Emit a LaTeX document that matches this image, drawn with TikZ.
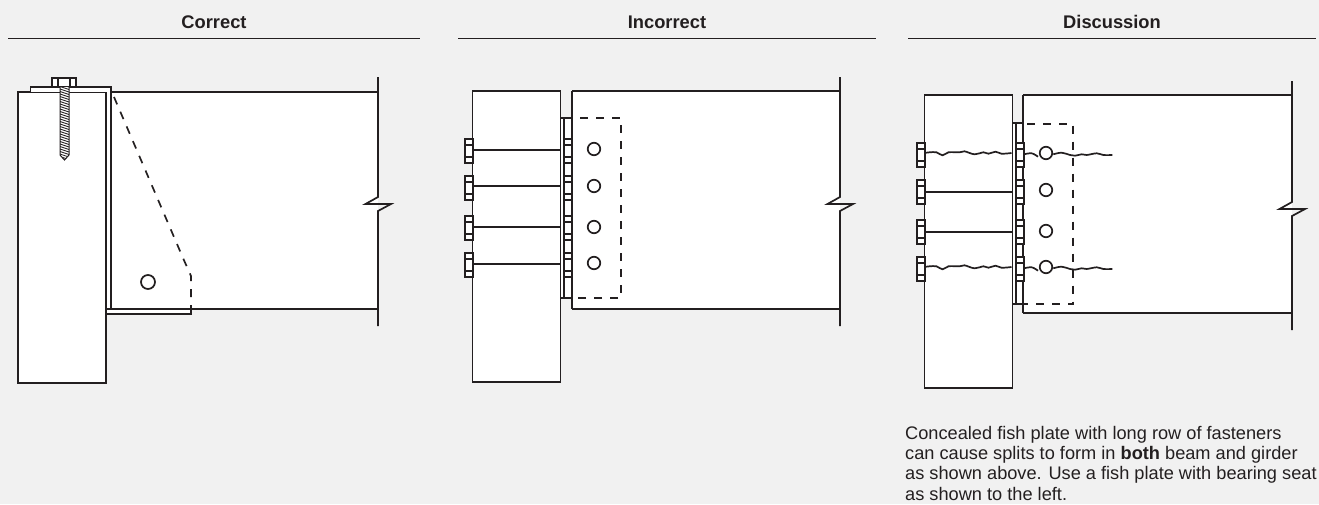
\documentclass[tikz,border=0pt]{standalone}
\usepackage{fontspec}
\setmainfont{Liberation Sans}
\definecolor{ink}{HTML}{231F20}
\definecolor{bg}{HTML}{F1F1F1}
\tikzset{
  part/.style={draw=ink,line width=1.7pt,fill=white},
  ln/.style={draw=ink,line width=1.7pt},
  rule/.style={draw=ink,line width=1.1pt},
  dashline/.style={draw=ink,line width=1.7pt,dash pattern=on 8pt off 8pt},
  hole/.style={draw=ink,line width=1.7pt,fill=white},
  head/.style={font=\bfseries\fontsize{18.3}{22}\selectfont,text=ink,inner sep=0pt,anchor=base},
  body/.style={font=\fontsize{18.2}{20.3}\selectfont,text=ink,inner sep=0pt,anchor=north west,align=left}
}
% break line: x, top, zig y
\newcommand{\breakline}[3]{%
  \draw[ln,line join=miter] (#1,#2) -- (#1,#3-7) -- (#1-12.5,#3) -- (#1+13,#3) -- (#1,#3+7) -- (#1,#2+249);}
% bolt pair at row top y; #1 = left head x, #2 = right head x, #3 = y
\newcommand{\boltpair}[3]{%
  \draw[part,line width=1.5pt] (#1,#3) rectangle (#1+8,#3+24);
  \draw[ln,line width=1.5pt] (#1,#3+6) -- (#1+8,#3+6) (#1,#3+18) -- (#1+8,#3+18);
  \draw[part,line width=1.5pt] (#2,#3) rectangle (#2+8,#3+24);
  \draw[ln,line width=1.5pt] (#2,#3+6) -- (#2+8,#3+6) (#2,#3+18) -- (#2+8,#3+18);}
% wavy crack
\newcommand{\waveA}[2]{%
  \draw[ln] plot[smooth,tension=0.6] coordinates {(#1,#2) (#1+5,#2-.7) (#1+12,#2-.7) (#1+18,#2+2.3) (#1+24,#2-.7) (#1+35,#2-.7) (#1+40,#2-1.7) (#1+50,#2+1.3) (#1+59,#2-.7) (#1+64,#2+.7) (#1+71,#2-1.3) (#1+77,#2+.7) (#1+87,#2)};}
\newcommand{\waveB}[2]{%
  \draw[ln] plot[smooth,tension=0.6] coordinates {(#1+1,#2+.3) (#1+8.7,#2-.7) (#1+15,#2+2.7)};
  \draw[ln] plot[smooth,tension=0.6] coordinates {(#1+30.3,#2+.3) (#1+38.7,#2-1.3) (#1+47,#2+1) (#1+52,#2+1.7) (#1+58.7,#2+.3) (#1+63.7,#2+1) (#1+73.7,#2-.7) (#1+80.3,#2+1) (#1+89.3,#2+1)};}
\begin{document}
\begin{tikzpicture}[x=1pt,y=-1pt]
\useasboundingbox[fill=bg] (0,0) rectangle (1319,504);
% headers
\node[head] (h1) at (214,28) {Correct};
\node[head] (h2) at (667,28) {Incorrect};
\node[head] (h3) at (1112,28) {Discussion};
\draw[rule] (8,38.7) -- (420,38.7);
\draw[rule] (458,38.7) -- (876,38.7);
\draw[rule] (908,38.7) -- (1316,38.7);

% ---------- Panel 1
\fill[white] (111,92) rectangle (378,309);
\draw[ln] (111,92) -- (378,92);
\draw[ln] (111,309) -- (378,309);
\breakline{378}{77}{204}
\draw[part] (18,92) rectangle (106,383);
\fill[white] (106,87) rectangle (111,314);
\fill[white] (30.5,87) rectangle (111,92);
\draw[ln] (30.5,92) -- (30.5,87) -- (111,87) -- (111,309);
\draw[ln] (106,92) -- (106,383);
\draw[part] (106,309) rectangle (191,314);
% bolt head
\draw[part,line width=1.5pt] (52,78) rectangle (76,87);
\draw[ln,line width=1.4pt] (58,78) -- (58,87) (70,78) -- (70,87);
% screw
\begin{scope}
\clip (60,87) -- (69,87) -- (69,155) -- (64.5,160) -- (60,155) -- cycle;
\fill[white] (58,85) rectangle (71,162);
\foreach \yy in {84,86.5,...,160}{\draw[draw=ink,line width=.8pt] (60,\yy) -- (69,\yy+3);}
\end{scope}
\draw[draw=ink,line width=1pt] (60,87) -- (60,155) -- (64.5,160) -- (69,155) -- (69,87);
% dashed
\draw[dashline] (114,97) -- (183,258) -- (191,276) -- (191,309);
\node[circle,hole,minimum size=14pt,inner sep=0pt] (c1) at (148,282) {};

% ---------- Panel 2
\fill[white] (572,91) rectangle (840,309);
\draw[ln] (572,91) -- (840,91);
\draw[ln] (572,309) -- (840,309);
\draw[ln] (572,91) -- (572,309);
\breakline{840}{77}{204}
\draw[part] (472.5,91) rectangle (560.5,382);
\draw[part] (560.5,118) rectangle (572,298);
\draw[ln] (564,118) -- (564,298);
\foreach \yy/\sp in {139/150,176/186,216/227,253/264}{
  \boltpair{465}{564}{\yy}
  \draw[ln] (472.5,\sp) -- (560.5,\sp);
}
\draw[dashline] (580,118) -- (621,118) -- (621,298) -- (572,298);
\foreach \yy in {149,186,227,263}{
  \node[circle,hole,minimum size=12.5pt,inner sep=0pt] at (594,\yy) {};
}

% ---------- Panel 3
\fill[white] (1023,95) rectangle (1292,313);
\draw[ln] (1023,95) -- (1292,95);
\draw[ln] (1023,313) -- (1292,313);
\draw[ln] (1023,95) -- (1023,313);
\breakline{1292}{81}{209}
\draw[part] (924.5,95) rectangle (1012.5,388);
\draw[part] (1012.5,123) rectangle (1023,304);
\draw[ln] (1016,123) -- (1016,304);
\foreach \yy in {143,180,220,257}{\boltpair{917}{1016}{\yy}}
\draw[ln] (924.5,192) -- (1012.5,192);
\draw[ln] (924.5,232) -- (1012.5,232);
\waveA{924.5}{153}
\waveA{924.5}{267}
\draw[dashline] (1027,124) -- (1073.3,124) -- (1073.3,304) -- (1027,304);
\draw[ln] (1023,304) -- (1027,304);
\foreach \yy in {190,231}{
  \node[circle,hole,minimum size=12.5pt,inner sep=0pt] at (1046,\yy) {};
}
\waveB{1023}{154}
\waveB{1023}{268}
\foreach \yy in {153,267}{
  \node[circle,hole,minimum size=12.5pt,inner sep=0pt] at (1046,\yy) {};
}
\node[body] (txt) at (905,426) {Concealed fish plate with long row of fasteners\\can cause splits to form in \textbf{both} beam and girder\\as shown above. Use a fish plate with bearing seat\\as shown to the left.};
\end{tikzpicture}
\end{document}
